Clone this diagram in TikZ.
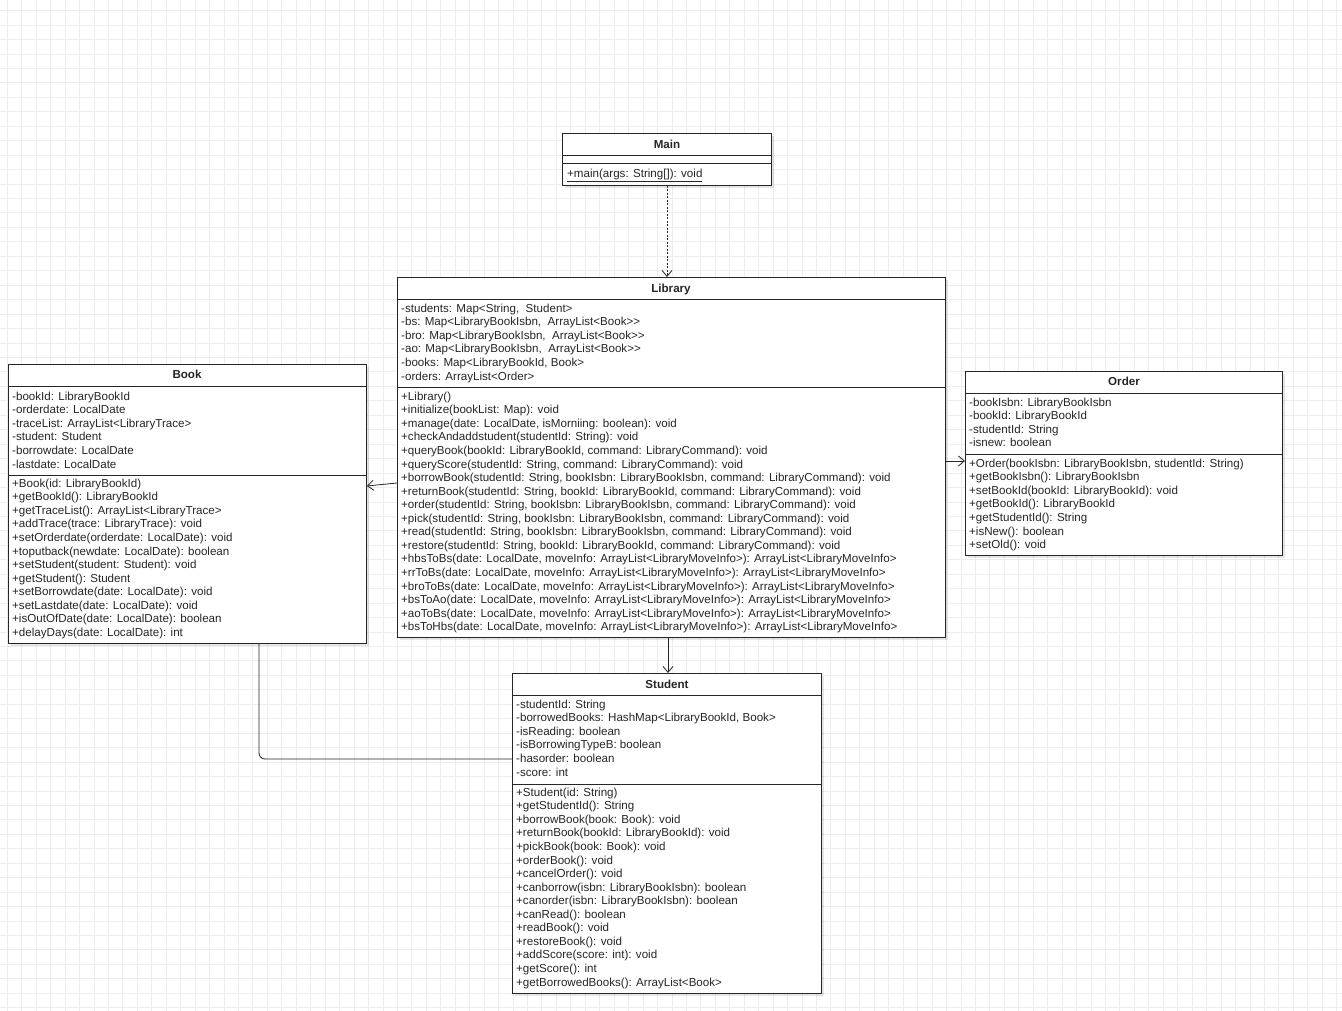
\documentclass[tikz,border=0pt]{standalone}
\usepackage{fontspec}
\setmainfont{Liberation Sans}
\usetikzlibrary{arrows.meta,shadows}
\definecolor{gridc}{HTML}{EDEDED}
\definecolor{ink}{HTML}{262626}
\newcommand\umlfont{\fontsize{11.6}{13.55}\selectfont}
\begin{document}
\begin{tikzpicture}[x=1pt,y=-1pt,
  umlbox/.style={draw=ink,line width=0.9pt,fill=white,anchor=north west,inner sep=0pt,
     drop shadow={shadow xshift=3pt,shadow yshift=-3pt,fill=black,opacity=0.10}},
  txt/.style={anchor=north west,inner sep=0pt,align=left,font=\umlfont,text=ink},
  ttl/.style={font=\umlfont\bfseries,inner sep=0pt,text=ink,text height=8.4pt,text depth=0pt},
  sepline/.style={draw=ink,line width=0.9pt},
  assoc/.style={draw=ink,line width=0.8pt,-{Straight Barb[length=6pt,width=10pt]}},
  dep/.style={assoc,dash pattern=on 2pt off 1.5pt}]
\useasboundingbox (0,0) rectangle (1342,1011);
\fill[white] (0,0) rectangle (1342,1011);
\foreach \i in {0,...,92} \draw[gridc,line width=1pt] ({7.3+14.45*\i},0) -- ({7.3+14.45*\i},1011);
\foreach \i in {0,...,69} \draw[gridc,line width=1pt] (0,{10.7+14.45*\i}) -- (1342,{10.7+14.45*\i});

% ---------- Main ----------
\node[umlbox,minimum width=209pt,minimum height=52pt] (main) at (562,133) {};
\node[ttl] (mainT) at (667,144.5) {Main};
\draw[sepline] (562,155) -- (771,155);
\draw[sepline] (562,163) -- (771,163);
\node[txt] (mainM) at (567,168.7) {\underline{+main(args: String[]): void}};

% ---------- Library ----------
\node[umlbox,minimum width=548pt,minimum height=360pt] (lib) at (397,277) {};
\node[ttl] (libT) at (671,288.5) {Library};
\draw[sepline] (397,299) -- (945,299);
\node[txt] (libA) at (401,303.7) {-students: Map<String,~ Student>\\
-bs: Map<LibraryBookIsbn,~ ArrayList<Book>{}>\\
-bro: Map<LibraryBookIsbn,~ ArrayList<Book>{}>\\
-ao: Map<LibraryBookIsbn,~ ArrayList<Book>{}>\\
-books: Map<LibraryBookId, Book>\\
-orders: ArrayList<Order>};
\draw[sepline] (397,387) -- (945,387);
\node[txt] (libM) at (401,391.7) {+Library()\\
+initialize(bookList: Map): void\\
+manage(date: LocalDate, isMorniing: boolean): void\\
+checkAndaddstudent(studentId: String): void\\
+queryBook(bookId: LibraryBookId, command: LibraryCommand): void\\
+queryScore(studentId: String, command: LibraryCommand): void\\
+borrowBook(studentId: String, bookIsbn: LibraryBookIsbn, command: LibraryCommand): void\\
+returnBook(studentId: String, bookId: LibraryBookId, command: LibraryCommand): void\\
+order(studentId: String, bookIsbn: LibraryBookIsbn, command: LibraryCommand): void\\
+pick(studentId: String, bookIsbn: LibraryBookIsbn, command: LibraryCommand): void\\
+read(studentId: String, bookIsbn: LibraryBookIsbn, command: LibraryCommand): void\\
+restore(studentId: String, bookId: LibraryBookId, command: LibraryCommand): void\\
+hbsToBs(date: LocalDate, moveInfo: ArrayList<LibraryMoveInfo>{}): ArrayList<LibraryMoveInfo>\\
+rrToBs(date: LocalDate, moveInfo: ArrayList<LibraryMoveInfo>{}): ArrayList<LibraryMoveInfo>\\
+broToBs(date: LocalDate, moveInfo: ArrayList<LibraryMoveInfo>{}): ArrayList<LibraryMoveInfo>\\
+bsToAo(date: LocalDate, moveInfo: ArrayList<LibraryMoveInfo>{}): ArrayList<LibraryMoveInfo>\\
+aoToBs(date: LocalDate, moveInfo: ArrayList<LibraryMoveInfo>{}): ArrayList<LibraryMoveInfo>\\
+bsToHbs(date: LocalDate, moveInfo: ArrayList<LibraryMoveInfo>{}): ArrayList<LibraryMoveInfo>};

% ---------- Book ----------
\node[umlbox,minimum width=358pt,minimum height=279pt] (book) at (8,364) {};
\node[ttl] (bookT) at (187,374.5) {Book};
\draw[sepline] (8,386) -- (366,386);
\node[txt] (bookA) at (12,391.7) {-bookId: LibraryBookId\\
-orderdate: LocalDate\\
-traceList: ArrayList<LibraryTrace>\\
-student: Student\\
-borrowdate: LocalDate\\
-lastdate: LocalDate};
\draw[sepline] (8,475) -- (366,475);
\node[txt] (bookM) at (12,478.7) {+Book(id: LibraryBookId)\\
+getBookId(): LibraryBookId\\
+getTraceList(): ArrayList<LibraryTrace>\\
+addTrace(trace: LibraryTrace): void\\
+setOrderdate(orderdate: LocalDate): void\\
+toputback(newdate: LocalDate): boolean\\
+setStudent(student: Student): void\\
+getStudent(): Student\\
+setBorrowdate(date: LocalDate): void\\
+setLastdate(date: LocalDate): void\\
+isOutOfDate(date: LocalDate): boolean\\
+delayDays(date: LocalDate): int};

% ---------- Order ----------
\node[umlbox,minimum width=317pt,minimum height=184pt] (order) at (965,371) {};
\node[ttl] (orderT) at (1124,381.5) {Order};
\draw[sepline] (965,393) -- (1282,393);
\node[txt] (orderA) at (969,397.7) {-bookIsbn: LibraryBookIsbn\\
-bookId: LibraryBookId\\
-studentId: String\\
-isnew: boolean};
\draw[sepline] (965,454) -- (1282,454);
\node[txt] (orderM) at (969,458.7) {+Order(bookIsbn: LibraryBookIsbn, studentId: String)\\
+getBookIsbn(): LibraryBookIsbn\\
+setBookId(bookId: LibraryBookId): void\\
+getBookId(): LibraryBookId\\
+getStudentId(): String\\
+isNew(): boolean\\
+setOld(): void};

% ---------- Student ----------
\node[umlbox,minimum width=309pt,minimum height=320pt] (student) at (512,673) {};
\node[ttl] (studentT) at (667,684.5) {Student};
\draw[sepline] (512,695) -- (821,695);
\node[txt] (studentA) at (516,699.7) {-studentId: String\\
-borrowedBooks: HashMap<LibraryBookId, Book>\\
-isReading: boolean\\
-isBorrowingTypeB: boolean\\
-hasorder: boolean\\
-score: int};
\draw[sepline] (512,784) -- (821,784);
\node[txt] (studentM) at (516,787.7) {+Student(id: String)\\
+getStudentId(): String\\
+borrowBook(book: Book): void\\
+returnBook(bookId: LibraryBookId): void\\
+pickBook(book: Book): void\\
+orderBook(): void\\
+cancelOrder(): void\\
+canborrow(isbn: LibraryBookIsbn): boolean\\
+canorder(isbn: LibraryBookIsbn): boolean\\
+canRead(): boolean\\
+readBook(): void\\
+restoreBook(): void\\
+addScore(score: int): void\\
+getScore(): int\\
+getBorrowedBooks(): ArrayList<Book>};

% ---------- connectors ----------
\coordinate (xMainLib) at (667,0);
\coordinate (xLibStu) at (668,0);
\coordinate (yLibBook) at (0,483);
\coordinate (yBookLib) at (0,486);
\coordinate (yLibOrd) at (0,461);
\coordinate (xBookStu) at (259,0);
\coordinate (yBookStu) at (0,759);
\draw[dep] (main.south -| xMainLib) -- (lib.north -| xMainLib);
\draw[assoc] (lib.south -| xLibStu) -- (student.north -| xLibStu);
\draw[assoc] (lib.west |- yLibBook) -- (book.east |- yBookLib);
\draw[assoc] (lib.east |- yLibOrd) -- (order.west |- yLibOrd);
\draw[draw=ink,line width=0.8pt,rounded corners=6pt] (book.south -| xBookStu) |- (student.west |- yBookStu);
\end{tikzpicture}
\end{document}
